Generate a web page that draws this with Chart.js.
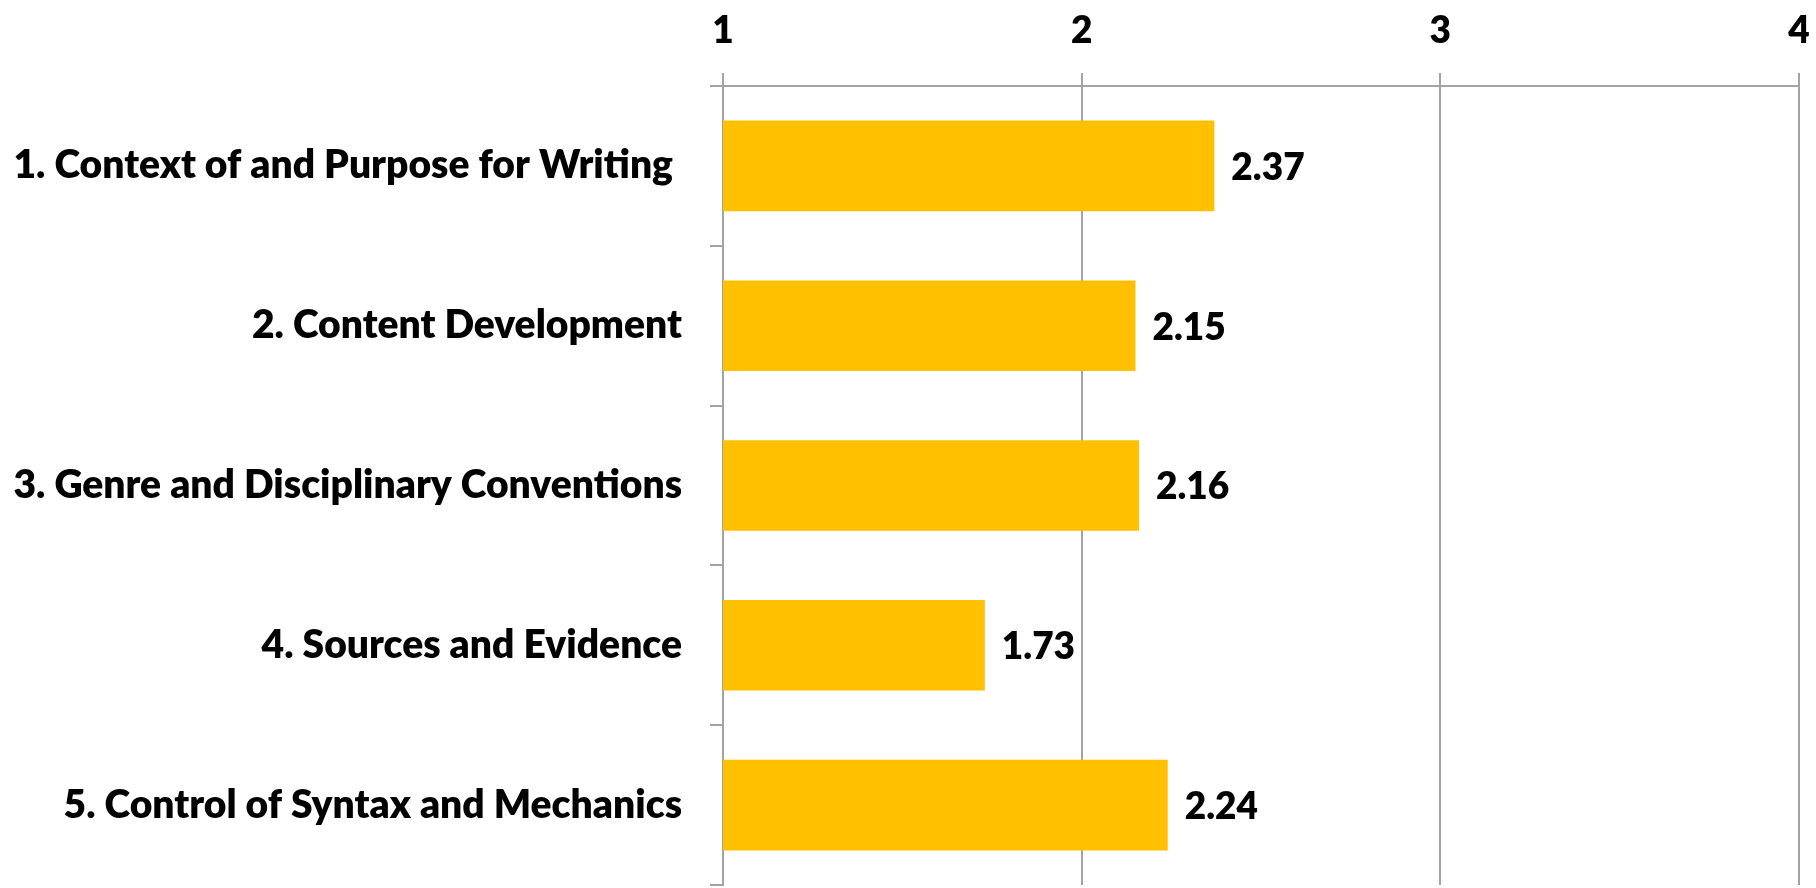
<!DOCTYPE html>
<html>
<head>
<meta charset="utf-8">
<title>Writing rubric scores</title>
<script src="https://cdn.jsdelivr.net/npm/chart.js@4/dist/chart.umd.min.js"></script>
<style>
  html, body { margin: 0; padding: 0; background: #ffffff; }
  #wrap { width: 1816px; height: 888px; }
</style>
</head>
<body>
<div id="wrap"><canvas id="chart" width="1816" height="888"></canvas></div>
<script>
// Rubric criteria and their mean scores
const categories = [
  "1. Context of and Purpose for Writing ",
  "2. Content Development",
  "3. Genre and Disciplinary Conventions",
  "4. Sources and Evidence",
  "5. Control of Syntax and Mechanics"
];
const scores = [2.37, 2.15, 2.16, 1.73, 2.24];
const scaleTicks = [1, 2, 3, 4];

const FONT = "Lato";
const WEIGHT = "800";
const GRID = "#a3a3a3";

// Writes each bar's value just past its end
const valueLabels = {
  id: "valueLabels",
  afterDatasetsDraw(chart) {
    const ctx = chart.ctx;
    const meta = chart.getDatasetMeta(0);
    ctx.save();
    ctx.font = WEIGHT + " 37px " + FONT;
    ctx.fillStyle = "#000000";
    ctx.textAlign = "left";
    ctx.textBaseline = "middle";
    meta.data.forEach((bar, i) => {
      ctx.fillText(scores[i].toFixed(2), bar.x + 17, bar.y + 2);
    });
    ctx.restore();
  }
};

new Chart(document.getElementById("chart"), {
  type: "bar",
  data: {
    labels: categories,
    datasets: [{
      data: scores,
      backgroundColor: "#FFC000",
      borderWidth: 0,
      barPercentage: 0.567,
      categoryPercentage: 1.0
    }]
  },
  options: {
    indexAxis: "y",
    responsive: false,
    animation: false,
    layout: { padding: { top: 0, right: 17, bottom: 3, left: 0 } },
    plugins: {
      legend: { display: false },
      tooltip: { enabled: false }
    },
    scales: {
      x: {
        position: "top",
        min: scaleTicks[0],
        max: scaleTicks[scaleTicks.length - 1],
        afterBuildTicks(scale) {
          scale.ticks = scaleTicks.map(v => ({ value: v }));
        },
        afterFit(scale) {
          scale.height = 86;
          scale.paddingLeft = 0;
          scale.paddingRight = 0;
        },
        grid: {
          color: GRID,
          lineWidth: 2,
          drawTicks: true,
          tickLength: 13
        },
        border: { display: true, color: GRID, width: 2 },
        ticks: {
          color: "#000000",
          padding: 20,
          font: { family: FONT, size: 37, weight: WEIGHT }
        }
      },
      y: {
        afterFit(scale) {
          scale.width = 723;
          scale.paddingTop = 0;
          scale.paddingBottom = 0;
        },
        grid: {
          color: GRID,
          lineWidth: 2,
          offset: true,
          drawOnChartArea: false,
          drawTicks: true,
          tickLength: 13
        },
        border: { display: true, color: GRID, width: 2 },
        ticks: {
          color: "#000000",
          padding: 28,
          font: { family: FONT, size: 39, weight: WEIGHT }
        }
      }
    }
  },
  plugins: [valueLabels]
});
</script>
</body>
</html>
